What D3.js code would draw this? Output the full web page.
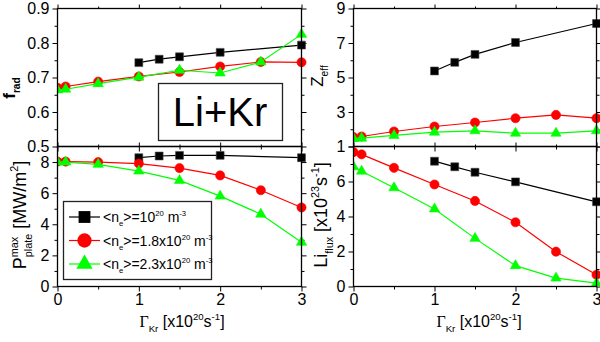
<!DOCTYPE html>
<html>
<head>
<meta charset="utf-8">
<script src="https://cdn.jsdelivr.net/npm/d3@7"></script>
<style>
  body { margin: 0; background: #fff; }
  svg { display: block; font-family: 'Liberation Sans', Arial, sans-serif; }
</style>
</head>
<body>
<div id="chart"></div>
<script>
// Kr puff rate [x10^20 s^-1]
const gammaLow = [1, 1.25, 1.5, 2, 3]
const gammaFull = [0, 0.1, 0.5, 1, 1.5, 2, 2.5, 3]

const fradBlack = [0.743, 0.753, 0.760, 0.773, 0.794]
const fradRed = [0.670, 0.674, 0.688, 0.703, 0.716, 0.732, 0.745, 0.744]
const fradGreen = [0.664, 0.666, 0.682, 0.701, 0.721, 0.713, 0.745, 0.825]

const zeffBlack = [5.38, 5.88, 6.34, 7.03, 8.13]
const zeffRed = [1.54, 1.58, 1.87, 2.16, 2.39, 2.64, 2.83, 2.64]
const zeffGreen = [1.46, 1.48, 1.64, 1.83, 1.91, 1.77, 1.77, 1.91]

const plateBlack = [8.28, 8.39, 8.43, 8.43, 8.28]
const plateRed = [8.03, 8.03, 8.0, 7.9, 7.61, 7.14, 6.19, 5.08]
const plateGreen = [8.0, 8.0, 7.85, 7.42, 6.82, 5.81, 4.65, 2.84]

const liBlack = [7.16, 6.84, 6.53, 5.98, 4.84]
const liRed = [7.68, 7.55, 6.78, 5.83, 4.89, 3.67, 1.99, 0.67]
const liGreen = [6.84, 6.59, 5.64, 4.43, 2.75, 1.19, 0.48, 0.19]

const xTicks = [0, 1, 2, 3]
const xMinor = [0.5, 1.5, 2.5]

// legend: <n_e> = ... x10^20 m^-3
const legendDensity = ['10', '1.8x10', '2.3x10']

const width = 600
const height = 342

const colors = ['#000000', '#ff0000', '#00ff00']
const shapes = [d3.symbolSquare, d3.symbolCircle, d3.symbolTriangle]
const markSize = [62, 66, 46]
const legendSize = [140, 160, 115]

const svg = d3
  .select('#chart')
  .append('svg')
  .attr('width', width)
  .attr('height', height)

const leftX = [57.5, 301.5]
const rightX = [353.5, 596.5]
const topY = [8.5, 146.5]
const botY = [146.5, 286.5]

// rich text helper: parts of {s, t: 'n' | 'sub' | 'sup', font, stack}
function rich (text, parts, size, small) {
  small = small || 0.6
  let off = 0
  let prev = null
  parts.forEach(p => {
    const t = p.t || 'n'
    const target = t === 'sub' ? size * 0.32 : t === 'sup' ? -size * 0.42 : 0
    const ts = text
      .append('tspan')
      .text(p.s)
      .attr('dy', target - off)
      .attr('font-size', t === 'n' ? size : size * small)
    if (p.font) ts.attr('font-family', p.font)
    if (p.stack && prev) ts.attr('dx', -prev.node().getComputedTextLength())
    off = target
    prev = ts
  })
}

function panel (opts) {
  const x = d3.scaleLinear().domain([0, 3]).range(opts.xr)
  const y = d3
    .scaleLinear()
    .domain(opts.domain)
    .range([opts.yr[1], opts.yr[0]])

  const g = svg.append('g')

  function styleAxis (sel) {
    sel.select('.domain').remove()
    sel.selectAll('line').attr('stroke', '#000').attr('stroke-width', 1)
    sel.selectAll('text').attr('font-size', 16).attr('fill', '#000')
  }

  // major/minor ticks on all four sides, only left and (optionally) bottom labelled
  g.append('g')
    .attr('transform', 'translate(' + opts.xr[0] + ',0)')
    .call(d3.axisLeft(y).tickValues(opts.major).tickSize(5).tickPadding(3).tickFormat(opts.fmt))
    .call(styleAxis)
  g.append('g')
    .attr('transform', 'translate(' + opts.xr[0] + ',0)')
    .call(d3.axisLeft(y).tickValues(opts.minor).tickSize(3).tickFormat(''))
    .call(styleAxis)
  g.append('g')
    .attr('transform', 'translate(' + opts.xr[1] + ',0)')
    .call(d3.axisRight(y).tickValues(opts.major).tickSize(5).tickFormat(''))
    .call(styleAxis)
  g.append('g')
    .attr('transform', 'translate(' + opts.xr[1] + ',0)')
    .call(d3.axisRight(y).tickValues(opts.minor).tickSize(3).tickFormat(''))
    .call(styleAxis)
  g.append('g')
    .attr('transform', 'translate(0,' + opts.yr[1] + ')')
    .call(d3.axisBottom(x).tickValues(xTicks).tickSize(5).tickPadding(2)
      .tickFormat(opts.showX ? d3.format('d') : ''))
    .call(styleAxis)
  g.append('g')
    .attr('transform', 'translate(0,' + opts.yr[1] + ')')
    .call(d3.axisBottom(x).tickValues(xMinor).tickSize(3).tickFormat(''))
    .call(styleAxis)
  g.append('g')
    .attr('transform', 'translate(0,' + opts.yr[0] + ')')
    .call(d3.axisTop(x).tickValues(xTicks).tickSize(4).tickFormat(''))
    .call(styleAxis)
  g.append('g')
    .attr('transform', 'translate(0,' + opts.yr[0] + ')')
    .call(d3.axisTop(x).tickValues(xMinor).tickSize(2).tickFormat(''))
    .call(styleAxis)

  // clip
  const clipId = 'clip-' + opts.name
  g.append('clipPath')
    .attr('id', clipId)
    .append('rect')
    .attr('x', opts.xr[0])
    .attr('y', opts.yr[0] - 6)
    .attr('width', opts.xr[1] - opts.xr[0] + 6)
    .attr('height', opts.yr[1] - opts.yr[0] + 6)

  const plot = g.append('g').attr('clip-path', 'url(#' + clipId + ')')

  const line = d3
    .line()
    .x(d => x(d[0]))
    .y(d => y(d[1]))

  opts.series.forEach((s, i) => {
    const pts = s.map((v, j) => [i === 0 ? gammaLow[j] : gammaFull[j], v])
    plot
      .append('path')
      .datum(pts)
      .attr('d', line)
      .attr('fill', 'none')
      .attr('stroke', colors[i])
      .attr('stroke-width', 1.2)
    plot
      .selectAll('.mark-' + i)
      .data(pts)
      .enter()
      .append('path')
      .attr('class', 'mark-' + i)
      .attr('d', d3.symbol().type(shapes[i]).size(markSize[i]))
      .attr('transform', d => 'translate(' + x(d[0]) + ',' + y(d[1]) + ')')
      .attr('fill', colors[i])
      .attr('stroke', i === 0 ? '#444' : colors[i])
      .attr('stroke-width', 0.6)
  })

  // frame
  g.append('rect')
    .attr('x', opts.xr[0])
    .attr('y', opts.yr[0])
    .attr('width', opts.xr[1] - opts.xr[0])
    .attr('height', opts.yr[1] - opts.yr[0])
    .attr('fill', 'none')
    .attr('stroke', '#000')
    .attr('stroke-width', 1.3)

  return { x, y, g }
}

panel({
  name: 'frad',
  xr: leftX,
  yr: topY,
  domain: [0.5, 0.9],
  major: [0.5, 0.6, 0.7, 0.8, 0.9],
  minor: [0.55, 0.65, 0.75, 0.85],
  fmt: d3.format('.1f'),
  showX: false,
  series: [fradBlack, fradRed, fradGreen]
})

panel({
  name: 'zeff',
  xr: rightX,
  yr: topY,
  domain: [1, 9],
  major: [1, 3, 5, 7, 9],
  minor: [2, 4, 6, 8],
  fmt: d3.format('d'),
  showX: false,
  series: [zeffBlack, zeffRed, zeffGreen]
})

panel({
  name: 'plate',
  xr: leftX,
  yr: botY,
  domain: [0, 9],
  major: [0, 2, 4, 6, 8],
  minor: [1, 3, 5, 7],
  fmt: d3.format('d'),
  showX: true,
  series: [plateBlack, plateRed, plateGreen]
})

panel({
  name: 'li',
  xr: rightX,
  yr: botY,
  domain: [0, 8],
  major: [0, 2, 4, 6, 8],
  minor: [1, 3, 5, 7],
  fmt: d => (d === 8 ? '' : d),
  showX: true,
  series: [liBlack, liRed, liGreen]
})

// y axis titles (rotated)
function yTitle (xPos, yPos, parts, size, bold) {
  const t = svg
    .append('text')
    .attr('transform', 'translate(' + xPos + ',' + yPos + ') rotate(-90)')
    .attr('text-anchor', 'middle')
    .attr('fill', '#000')
  if (bold) t.attr('font-weight', 'bold')
  rich(t, parts, size)
}

yTitle(15, 88, [{ s: 'f' }, { s: 'rad', t: 'sub' }], 17, true)
yTitle(323, 76, [{ s: 'Z' }, { s: 'eff', t: 'sub' }], 17, false)
yTitle(26, 215, [
  { s: 'P' }, { s: 'max', t: 'sup' }, { s: 'plate', t: 'sub', stack: true },
  { s: ' [MW/m' }, { s: '2', t: 'sup' }, { s: ']' }
], 18, false)
yTitle(327, 215, [
  { s: 'Li' }, { s: 'flux', t: 'sub' }, { s: ' [x10' }, { s: '23', t: 'sup' },
  { s: 's' }, { s: '-1', t: 'sup' }, { s: ']' }
], 18, false)

// x axis titles
function xTitle (xPos) {
  const t = svg
    .append('text')
    .attr('x', xPos)
    .attr('y', 327)
    .attr('text-anchor', 'middle')
    .attr('fill', '#000')
  rich(t, [
    { s: 'Γ', font: "'Liberation Serif', 'Times New Roman', serif" },
    { s: 'Kr', t: 'sub' }, { s: ' [x10' }, { s: '20', t: 'sup' },
    { s: 's' }, { s: '-1', t: 'sup' }, { s: ']' }
  ], 16)
}
xTitle(182)
xTitle(479)

// Li+Kr box
svg.append('rect')
  .attr('x', 158.5)
  .attr('y', 83.5)
  .attr('width', 124)
  .attr('height', 57)
  .attr('fill', '#fff')
  .attr('stroke', '#222')
  .attr('stroke-width', 1.3)
svg.append('text')
  .attr('x', 220)
  .attr('y', 126)
  .attr('text-anchor', 'middle')
  .attr('font-size', 40)
  .attr('fill', '#000')
  .text('Li+Kr')

// legend
const legend = svg.append('g')
legend.append('rect')
  .attr('x', 63.5)
  .attr('y', 201.5)
  .attr('width', 148)
  .attr('height', 78)
  .attr('fill', '#fff')
  .attr('stroke', '#222')
  .attr('stroke-width', 1.3)

legendDensity.forEach((dens, i) => {
  const ly = 217 + i * 23.5
  legend.append('line')
    .attr('x1', 69)
    .attr('x2', 100)
    .attr('y1', ly)
    .attr('y2', ly)
    .attr('stroke', colors[i])
    .attr('stroke-width', 1.2)
  legend.append('path')
    .attr('d', d3.symbol().type(shapes[i]).size(legendSize[i]))
    .attr('transform', 'translate(84.5,' + ly + ')')
    .attr('fill', colors[i])
  const t = legend.append('text')
    .attr('x', 103)
    .attr('y', ly + 5)
    .attr('fill', '#000')
  rich(t, [
    { s: '<n' }, { s: 'e', t: 'sub' }, { s: '>=' + dens }, { s: '20', t: 'sup' },
    { s: ' m' }, { s: '-3', t: 'sup' }
  ], 14, 0.55)
})
</script>
</body>
</html>
